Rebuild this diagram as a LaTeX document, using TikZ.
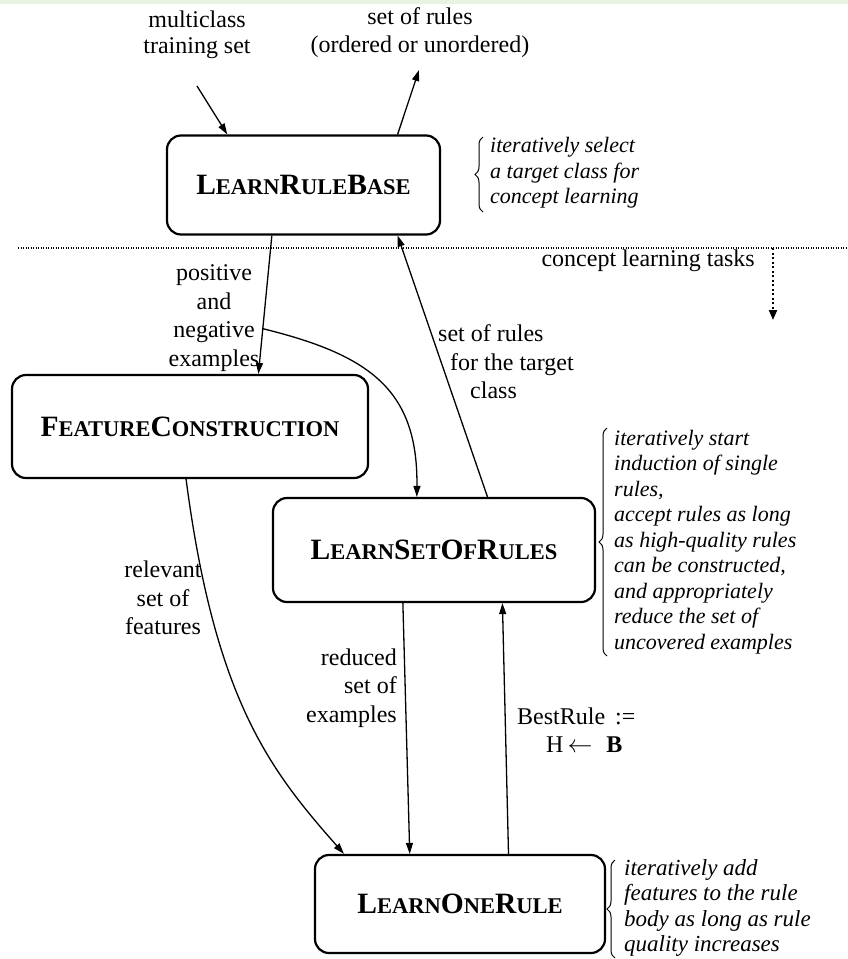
\documentclass[tikz,border=0pt]{standalone}
\usepackage{fontspec}
\setmainfont{Liberation Serif}
\usetikzlibrary{arrows.meta,calc,decorations.pathreplacing}
\definecolor{stripgreen}{RGB}{232,243,226}
\newcommand{\sck}[1]{{\fontsize{22.5}{24}\selectfont #1}}
\begin{document}
\begin{tikzpicture}[x=1pt,y=-1pt,
  box/.style={draw, line width=2.2pt, rounded corners=14pt, inner sep=0pt,
              font=\fontsize{29.5}{31}\selectfont\bfseries},
  conn/.style={line width=1.3pt, -{Triangle[length=11pt,width=7pt]}},
  lbl/.style={font=\fontsize{24}{28.5}\selectfont, inner sep=0pt},
  note/.style={font=\fontsize{22}{25.5}\selectfont\itshape, align=left, inner sep=0pt, anchor=west},
  brc/.style={decorate, decoration={brace, amplitude=8pt}, line width=1pt},
  dotline/.style={line width=1.2pt, dash pattern=on 1.2pt off 1.3pt},
  dotarrow/.style={line width=2pt, dash pattern=on 2pt off 2.5pt, -{Triangle[length=10pt,width=8pt]}}
]
\useasboundingbox (0,0) rectangle (848,959);
\fill[stripgreen] (0,0) rectangle (848,4);

% boxes
\node[box, minimum width=273pt, minimum height=99pt] (LRB) at (303.5,185) {L\sck{EARN}R\sck{ULE}B\sck{ASE}};
\node[box, minimum width=356pt, minimum height=103pt] (FC) at (190,426.5) {F\sck{EATURE}C\sck{ONSTRUCTION}};
\node[box, minimum width=322pt, minimum height=104pt] (LSR) at (434,550) {L\sck{EARN}S\sck{ET}O\sck{F}R\sck{ULES}};
\node[box, minimum width=290pt, minimum height=98pt] (LOR) at (460,904) {L\sck{EARN}O\sck{NE}R\sck{ULE}};

% top labels and arrows
\node[lbl, align=center, font=\fontsize{24}{26}\selectfont] (mc) at (197,35) {multiclass\\training set};
\node[lbl, align=center, font=\fontsize{24}{28}\selectfont] (sr) at (420,33) {set of rules\\(ordered or unordered)};
\coordinate (inS) at (197,86);
\coordinate (outE) at (419,70);
\draw[conn] (inS) -- ($(LRB.north west)!0.223!(LRB.north east)$);
\draw[conn] ($(LRB.north west)!0.842!(LRB.north east)$) -- (outE);

% dotted separator
\coordinate (dl) at (18,248);
\coordinate (dr) at (848,248);
\draw[dotline] (dl) -- (dr);
\node[lbl, anchor=east] (clt) at (755,261) {concept learning tasks};
\coordinate (dA) at (773,248);
\coordinate (dB) at (773,320);
\draw[dotarrow] (dA) -- (dB);

% LRB -> FC and branch to LSR
\coordinate (a1) at ($(LRB.south west)!0.385!(LRB.south east)$);
\coordinate (a2) at ($(FC.north west)!0.691!(FC.north east)$);
\draw[conn] (a1) -- (a2);
\coordinate (br) at ($(a1)!0.673!(a2)$);
\draw[conn] (br) .. controls (370,355) and (418,390) .. ($(LSR.north west)!0.447!(LSR.north east)$);
\node[lbl, align=center] (pos) at (214,318) {positive\\and\\negative\\examples};

% LSR -> LRB
\draw[conn] ($(LSR.north west)!0.665!(LSR.north east)$) -- ($(LRB.south west)!0.842!(LRB.south east)$);
\node[lbl, align=left, anchor=west] (sor) at (438,362) {set of rules\\\hspace*{12pt}for the target\\\hspace*{32pt}class};

% FC -> LOR
\draw[conn] ($(FC.south west)!0.489!(FC.south east)$) .. controls (215,700) and (270,770) .. ($(LOR.north west)!0.103!(LOR.north east)$);
\node[lbl, align=center] (rel) at (163,598) {relevant\\set of\\features};

% LSR <-> LOR
\draw[conn] ($(LSR.south west)!0.404!(LSR.south east)$) -- ($(LOR.north west)!0.328!(LOR.north east)$);
\draw[conn] ($(LOR.north west)!0.666!(LOR.north east)$) -- ($(LSR.south west)!0.711!(LSR.south east)$);
\node[lbl, align=right, anchor=east] (red) at (397,688) {reduced\\set of\\examples};
\node[lbl, align=left, anchor=west] (best) at (517,730) {BestRule \,:=\\\hspace*{29pt}H\,$\leftarrow$\,\, \textbf{B}};

% braces and notes
\coordinate (b1a) at (483,212);
\coordinate (b1b) at (483,137);
\draw[brc] (b1a) -- (b1b);
\node[note] (n1) at (490,173) {iteratively select\\a target class for\\concept learning};
\coordinate (b2a) at (607,656);
\coordinate (b2b) at (607,428);
\draw[brc] (b2a) -- (b2b);
\node[note] (n2) at (614,542) {iteratively start\\induction of single\\rules,\\accept rules as long\\as high-quality rules\\can be constructed,\\and appropriately\\reduce the set of\\uncovered examples};
\coordinate (b3a) at (615,958);
\coordinate (b3b) at (615,860);
\draw[brc] (b3a) -- (b3b);
\node[note, font=\fontsize{23}{25.5}\selectfont\itshape] (n3) at (624,908) {iteratively add\\features to the rule\\body as long as rule\\quality increases};
\end{tikzpicture}
\end{document}
